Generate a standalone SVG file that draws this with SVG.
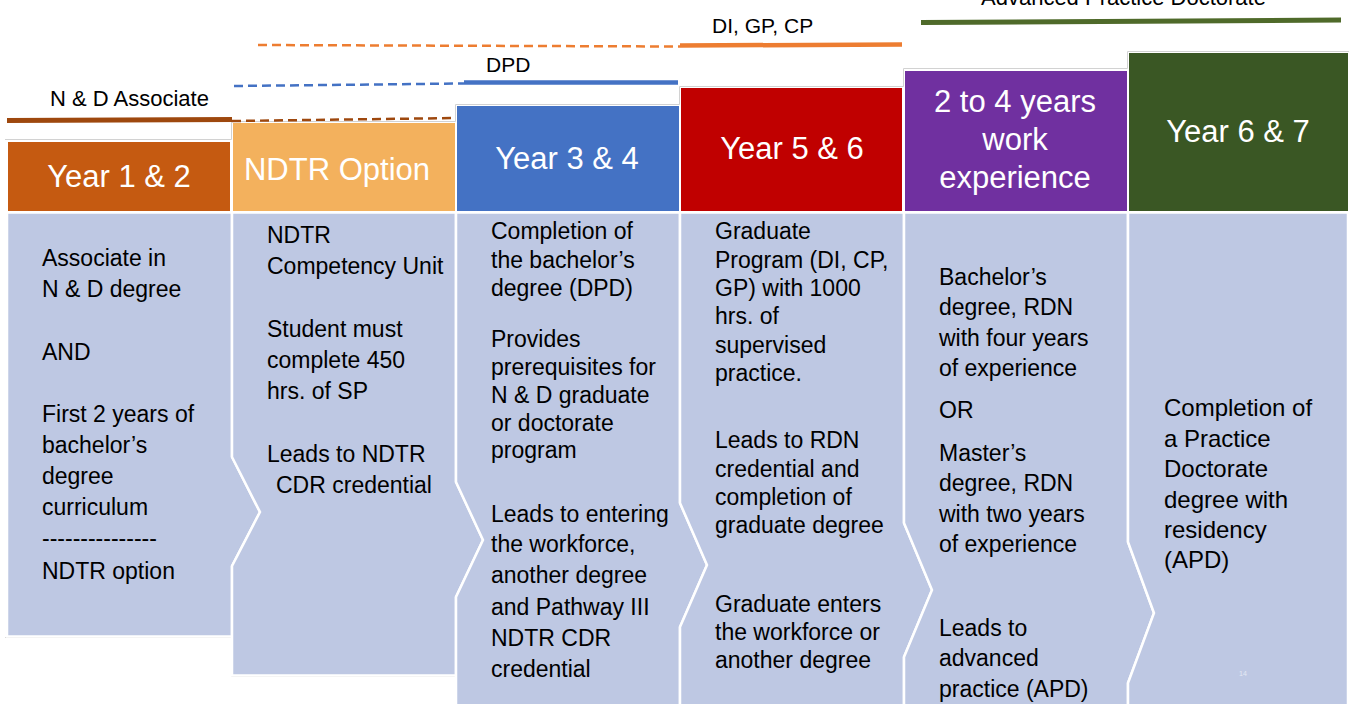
<svg xmlns="http://www.w3.org/2000/svg" width="1349" height="704" viewBox="0 0 1349 704">
<style>
.body{fill:#bec8e3;stroke:#ffffff;stroke-width:2.5;stroke-linejoin:miter}
.hd{font-family:"Liberation Sans",Arial,sans-serif;font-size:31px;fill:#ffffff;text-anchor:middle}
.tx{font-family:"Liberation Sans",Arial,sans-serif;font-size:23px;fill:#000000}
.lbl{font-family:"Liberation Sans",Arial,sans-serif;font-size:21px;fill:#000000}
.outline{fill:none;stroke:#d2d2d2;stroke-width:1}
.dash{fill:none;stroke-width:2.5;stroke-dasharray:9 5}
.solid{fill:none;stroke-width:4.5}
</style>
<rect width="1349" height="704" fill="#ffffff"/>
<g id="outline">
<path class="outline" d="M5,139.5 H231.5 V121.5 H455.5 V104.5 H679.5 V86.5 H903.5 V68.5 H1127.5 V51.5 H1349"/>
<path class="outline" d="M5,637.5 H231.5 V676.5 H455.5 V704"/>
</g>
<g id="program-bars">
<path class="solid" stroke="#9e480e" d="M7,120.5 L232,119.5" style="stroke-width:5"/>
<path class="dash" stroke="#9e480e" d="M232,121 L456,118"/>
<text class="lbl" x="50" y="106" style="font-size:22px">N &amp; D Associate</text>
<path class="dash" stroke="#4472c4" d="M234,86 L464,83.5"/>
<path class="solid" stroke="#4472c4" d="M464,82.5 L678,82.5"/>
<text class="lbl" x="486" y="72">DPD</text>
<path class="dash" stroke="#ed7d31" d="M258,45 L680,46.5"/>
<path class="solid" stroke="#ed7d31" d="M680,45.5 L902,44.5"/>
<text class="lbl" x="712" y="33">DI, GP, CP</text>
<path class="solid" stroke="#4f6a2a" d="M921,22.5 L1341,20" style="stroke-width:5"/>
<text class="lbl" x="981" y="5" style="font-size:22px">Advanced Practice Doctorate</text>
</g>
<g id="col1">
<rect x="8" y="142" width="222" height="69" fill="#c55a11"/>
<text class="hd" x="119" y="187">Year 1 &amp; 2</text>
<polygon class="body" points="7,212.5 232,212.5 232,457 260,512 232,566 232,636.5 7,636.5"/>
<text class="tx" x="42" y="266">Associate in</text>
<text class="tx" x="42" y="297">N &amp; D degree</text>
<text class="tx" x="42" y="360">AND</text>
<text class="tx" x="42" y="422">First 2 years of</text>
<text class="tx" x="42" y="453">bachelor’s</text>
<text class="tx" x="42" y="484">degree</text>
<text class="tx" x="42" y="515">curriculum</text>
<text class="tx" x="42" y="546">---------------</text>
<text class="tx" x="42" y="579">NDTR option</text>
</g>
<g id="col2">
<rect x="233" y="123" width="222" height="88" fill="#f3b15d"/>
<text class="hd" x="337" y="180">NDTR Option</text>
<polygon class="body" points="232,212.5 456,212.5 456,482 483,540 456,597 456,675.5 232,675.5 232,566 260,512 232,457"/>
<text class="tx" x="267" y="243">NDTR</text>
<text class="tx" x="267" y="274">Competency Unit</text>
<text class="tx" x="267" y="337">Student must</text>
<text class="tx" x="267" y="368">complete 450</text>
<text class="tx" x="267" y="399">hrs. of SP</text>
<text class="tx" x="267" y="462">Leads to NDTR</text>
<text class="tx" x="276" y="493">CDR credential</text>
</g>
<g id="col3">
<rect x="457" y="106" width="222" height="105" fill="#4472c4"/>
<text class="hd" x="567" y="169">Year 3 &amp; 4</text>
<polygon class="body" points="456,212.5 680,212.5 680,503 707,565 680,627 680,712 456,712 456,597 483,540 456,482"/>
<text class="tx" x="491" y="239">Completion of</text>
<text class="tx" x="491" y="268">the bachelor’s</text>
<text class="tx" x="491" y="296">degree (DPD)</text>
<text class="tx" x="491" y="347">Provides</text>
<text class="tx" x="491" y="375">prerequisites for</text>
<text class="tx" x="491" y="403">N &amp; D graduate</text>
<text class="tx" x="491" y="431">or doctorate</text>
<text class="tx" x="491" y="458">program</text>
<text class="tx" x="491" y="522">Leads to entering</text>
<text class="tx" x="491" y="552">the workforce,</text>
<text class="tx" x="491" y="583">another degree</text>
<text class="tx" x="491" y="615">and Pathway III</text>
<text class="tx" x="491" y="646">NDTR CDR</text>
<text class="tx" x="491" y="677">credential</text>
</g>
<g id="col4">
<rect x="681" y="88" width="221" height="123" fill="#c00000"/>
<text class="hd" x="792" y="159">Year 5 &amp; 6</text>
<polygon class="body" points="680,212.5 904,212.5 904,523 932,590 904,657 904,712 680,712 680,627 707,565 680,503"/>
<text class="tx" x="715" y="239">Graduate</text>
<text class="tx" x="715" y="268">Program (DI, CP,</text>
<text class="tx" x="715" y="296">GP) with 1000</text>
<text class="tx" x="715" y="324">hrs. of</text>
<text class="tx" x="715" y="353">supervised</text>
<text class="tx" x="715" y="381">practice.</text>
<text class="tx" x="715" y="448">Leads to RDN</text>
<text class="tx" x="715" y="477">credential and</text>
<text class="tx" x="715" y="505">completion of</text>
<text class="tx" x="715" y="533">graduate degree</text>
<text class="tx" x="715" y="612">Graduate enters</text>
<text class="tx" x="715" y="640">the workforce or</text>
<text class="tx" x="715" y="668">another degree</text>
</g>
<g id="col5">
<rect x="905" y="71" width="222" height="140" fill="#7030a0"/>
<text class="hd" x="1015" y="112">2 to 4 years</text>
<text class="hd" x="1015" y="150">work</text>
<text class="hd" x="1015" y="188">experience</text>
<polygon class="body" points="904,212.5 1128,212.5 1128,542 1154,613 1128,683 1128,712 904,712 904,657 932,590 904,523"/>
<text class="tx" x="939" y="285">Bachelor’s</text>
<text class="tx" x="939" y="315">degree, RDN</text>
<text class="tx" x="939" y="346">with four years</text>
<text class="tx" x="939" y="376">of experience</text>
<text class="tx" x="939" y="418">OR</text>
<text class="tx" x="939" y="461">Master’s</text>
<text class="tx" x="939" y="491">degree, RDN</text>
<text class="tx" x="939" y="522">with two years</text>
<text class="tx" x="939" y="552">of experience</text>
<text class="tx" x="939" y="636">Leads to</text>
<text class="tx" x="939" y="666">advanced</text>
<text class="tx" x="939" y="697">practice (APD)</text>
</g>
<g id="col6">
<rect x="1129" y="53" width="219" height="158" fill="#3a5724"/>
<text class="hd" x="1238" y="142">Year 6 &amp; 7</text>
<polygon class="body" points="1128,212.5 1348,212.5 1348,712 1128,712 1128,683 1154,613 1128,542"/>
<text class="tx" x="1164" y="416" style="font-size:24px">Completion of</text>
<text class="tx" x="1164" y="447" style="font-size:24px">a Practice</text>
<text class="tx" x="1164" y="477" style="font-size:24px">Doctorate</text>
<text class="tx" x="1164" y="508" style="font-size:24px">degree with</text>
<text class="tx" x="1164" y="538" style="font-size:24px">residency</text>
<text class="tx" x="1164" y="568" style="font-size:24px">(APD)</text>
<text x="1243" y="676" font-family="Liberation Sans, Arial, sans-serif" font-size="7" fill="#e4e8f3" text-anchor="middle">14</text>
</g>
</svg>
